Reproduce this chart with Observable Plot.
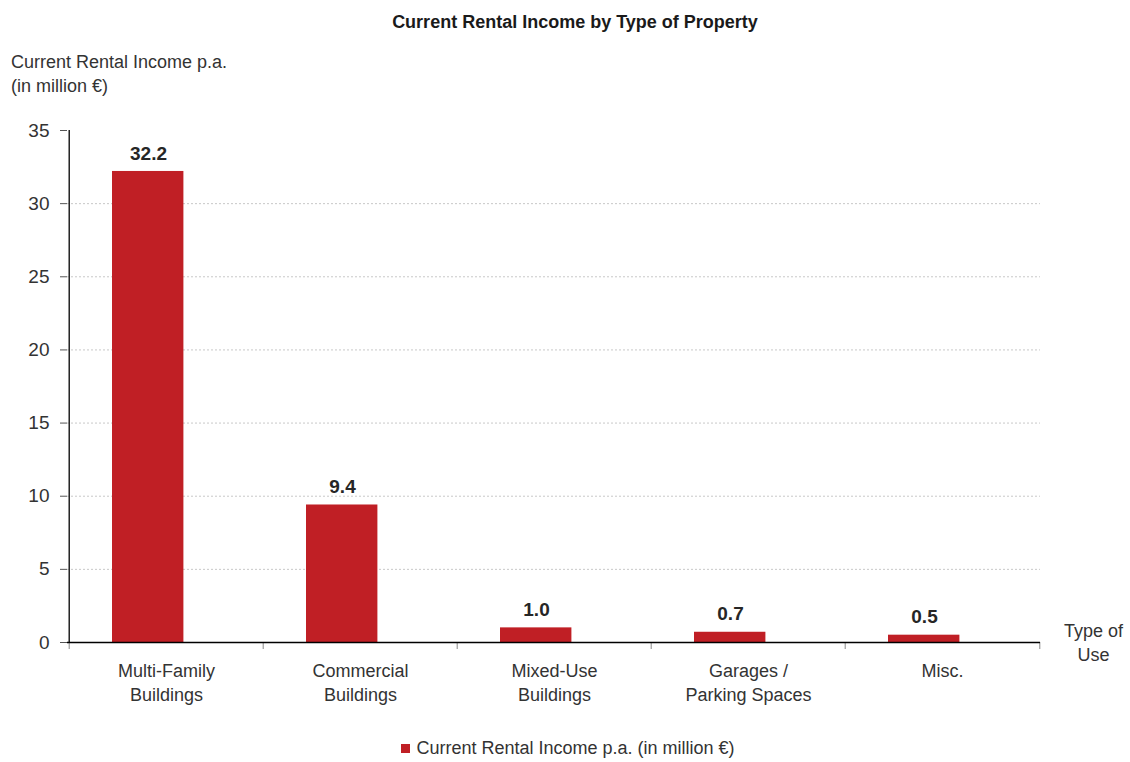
<!DOCTYPE html>
<html>
<head>
<meta charset="utf-8">
<script src="https://cdn.jsdelivr.net/npm/d3@7"></script>
<script src="https://cdn.jsdelivr.net/npm/@observablehq/plot@0.6"></script>
<style>
  html, body { margin: 0; padding: 0; background: #fff; }
  body { width: 1130px; height: 762px; overflow: hidden; font-family: "Liberation Sans Narrow", "Arial Narrow", "Liberation Sans", Arial, sans-serif; color: #262626; }
  #header { position: relative; height: 110px; }
  #title { position: absolute; left: 0; width: 1150px; top: 12px; text-align: center; font-weight: bold; font-size: 18px; color: #1a1a1a; }
  #ylabel { position: absolute; left: 11px; top: 50px; font-size: 18px; line-height: 24px; color: #333; }
  #legend { height: 42px; display: flex; justify-content: center; align-items: center; font-size: 18px; color: #333; padding-top: 14px; box-sizing: border-box; }
  #legend .sw { width: 9px; height: 9px; background: #C01F25; margin-right: 6px; margin-left: 6px; }
</style>
</head>
<body>
<div id="header">
  <div id="title">Current Rental Income by Type of Property</div>
  <div id="ylabel">Current Rental Income p.a.<br>(in million €)</div>
</div>
<div id="chart"></div>
<div id="legend"><span class="sw"></span><span>Current Rental Income p.a. (in million €)</span></div>
<script>
const categories = ["Multi-Family Buildings", "Commercial Buildings", "Mixed-Use Buildings", "Garages / Parking Spaces", "Misc."];
const categoryLabels = ["Multi-Family\nBuildings", "Commercial\nBuildings", "Mixed-Use\nBuildings", "Garages /\nParking Spaces", "Misc."];
const values = [32.2, 9.4, 1.0, 0.7, 0.5];
const yTicks = [0, 5, 10, 15, 20, 25, 30, 35];
const gridTicks = [5, 10, 15, 20, 25, 30];
const xAxisTitle = "Type of\nUse";

const data = categories.map((c, i) => ({category: c, value: values[i]}));
const labelOf = new Map(categories.map((c, i) => [c, categoryLabels[i]]));

const W = 1130, H = 610, mL = 67, mR = 90, mT = 20, mB = 78;
const bw = (W - mL - mR) / categories.length;
const barColor = "#C01F25";
const font = '"Liberation Sans Narrow", "Arial Narrow", "Liberation Sans", Arial, sans-serif';

const chart = Plot.plot({
  width: W, height: H,
  marginLeft: mL, marginRight: mR, marginTop: mT, marginBottom: mB,
  style: {fontFamily: font, fontSize: "18px", color: "#333", background: "#fff"},
  x: {domain: categories, padding: 0, label: null},
  y: {domain: [0, 35], label: null},
  marks: [
    Plot.gridY(gridTicks, {stroke: "#c8c8c8", strokeOpacity: 1, strokeDasharray: "2,2"}),
    Plot.barY(data, {x: "category", y: "value", fill: barColor, insetLeft: 43, insetRight: bw - 115}),
    Plot.text(data, {x: "category", y: "value", text: d => d.value.toFixed(1), dx: -18, dy: -18, fontWeight: "bold", fontSize: 19, fill: "#262626"}),
    Plot.axisY(yTicks, {tickSize: 7, tickPadding: 11, stroke: "#555", fill: "#333", label: null, fontSize: 19}),
    Plot.axisX({tickSize: 0, tickPadding: 18, tickFormat: d => labelOf.get(d), fill: "#333", label: null, fontSize: 18, lineHeight: 1.3}),
    Plot.ruleX(categories, {x: d => d, y1: 0, y2: 0, insetBottom: -7, dx: -bw / 2, stroke: "#888"}),
    Plot.ruleX([categories[categories.length - 1]], {x: d => d, y1: 0, y2: 0, insetBottom: -7, dx: bw / 2, stroke: "#888"}),
    Plot.ruleX([categories[0]], {x: d => d, y1: 0, y2: 35, dx: -bw / 2, stroke: "#000", strokeWidth: 1.3}),
    Plot.ruleY([0], {stroke: "#000", strokeWidth: 1.3}),
    Plot.text([xAxisTitle], {frameAnchor: "bottom-right", dx: 53, dy: -1, text: d => d, textAnchor: "middle", lineAnchor: "middle", lineHeight: 1.3, fontSize: 18, fill: "#333"})
  ]
});
document.getElementById("chart").appendChild(chart);
</script>
</body>
</html>
